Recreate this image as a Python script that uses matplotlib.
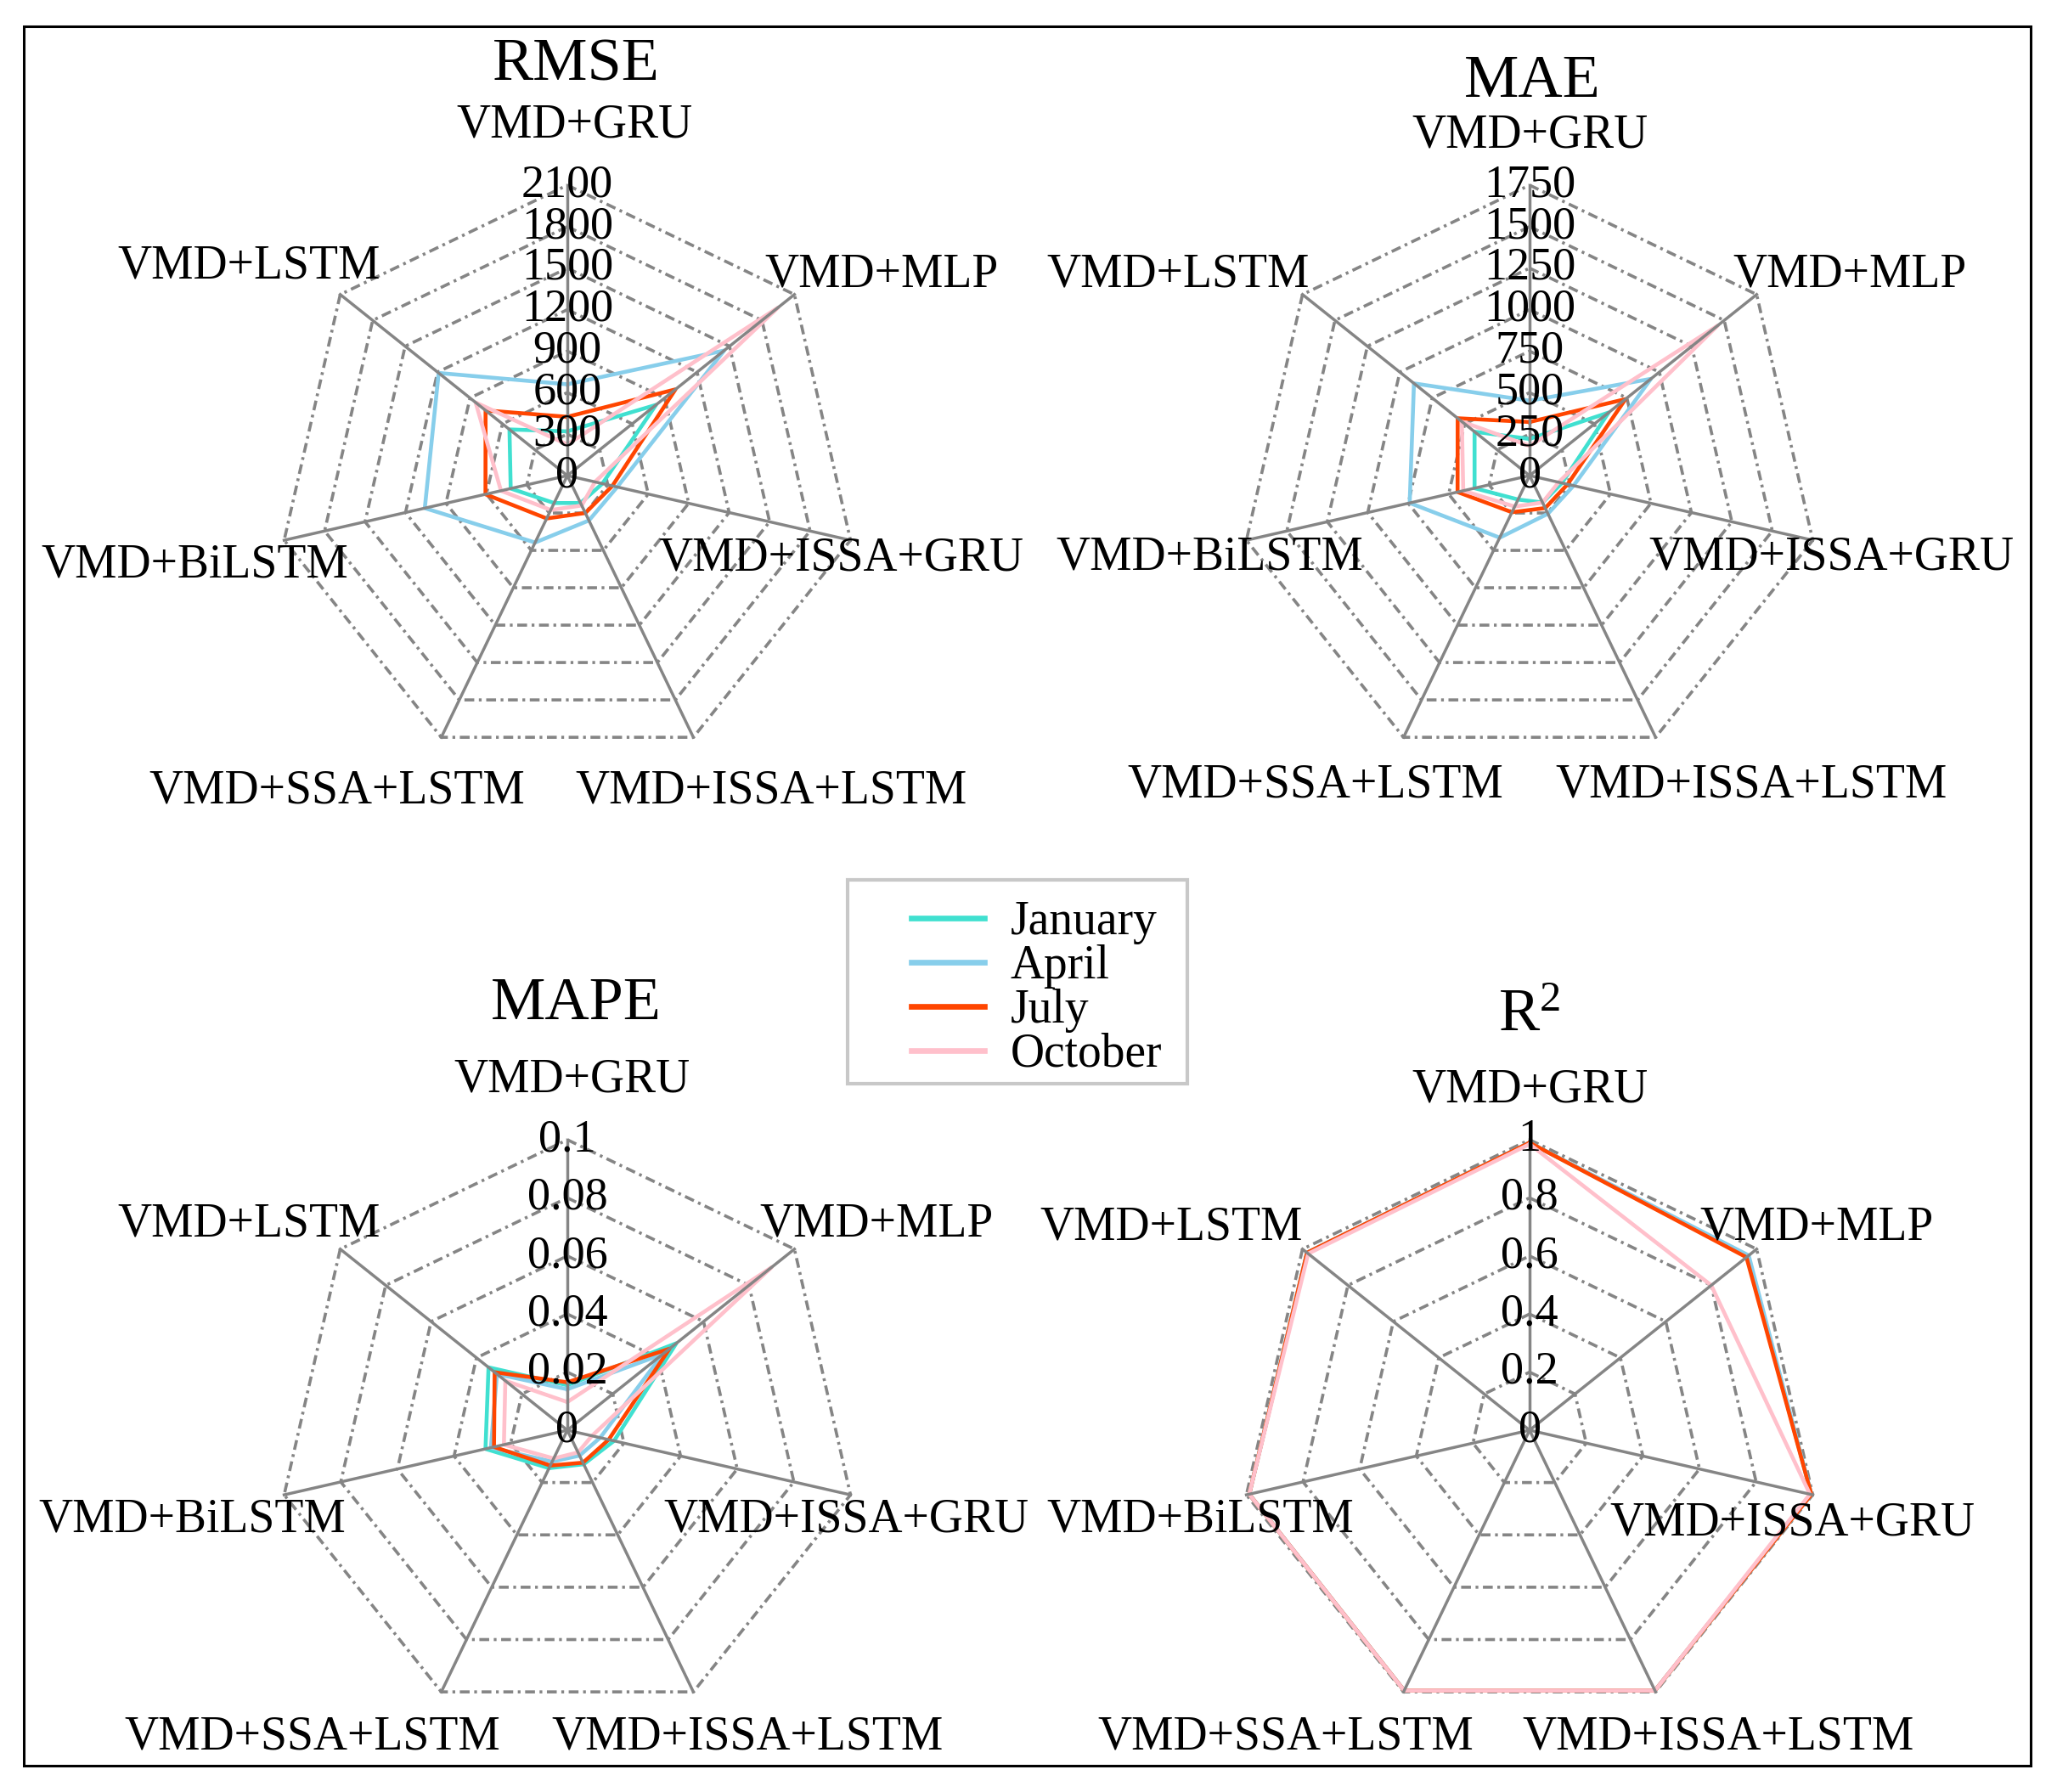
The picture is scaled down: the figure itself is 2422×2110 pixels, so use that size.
import numpy as np
import matplotlib
matplotlib.use('Agg')
import matplotlib.pyplot as plt
from matplotlib.lines import Line2D
from matplotlib.patches import Rectangle

plt.rcParams['font.family'] = ['Liberation Serif', 'DejaVu Serif']
plt.rcParams['mathtext.fontset'] = 'custom'
plt.rcParams['mathtext.rm'] = 'Liberation Serif'
plt.rcParams['mathtext.it'] = 'Liberation Serif:italic'

# ---------------------------------------------------------------- data
categories = ['VMD+GRU', 'VMD+MLP', 'VMD+ISSA+GRU', 'VMD+ISSA+LSTM',
              'VMD+SSA+LSTM', 'VMD+BiLSTM', 'VMD+LSTM']
months = ['January', 'April', 'July', 'October']
colors = ['#40E0D0', '#87CEEB', '#FF4500', '#FFC0CB']

rmse_jan = [320, 820, 260, 220, 220, 420, 535]
rmse_apr = [660, 1450, 370, 360, 537, 1057, 1190]
rmse_jul = [425, 1000, 334, 300, 344, 607, 756]
rmse_oct = [225, 1950, 205, 240, 276, 492, 848]

mae_jan = [221, 609, 200, 180, 160, 340, 424]
mae_apr = [451, 935, 272, 255, 415, 741, 891]
mae_jul = [323, 739, 235, 217, 245, 445, 554]
mae_oct = [179, 1450, 180, 180, 207, 410, 522]

mape_jan = [0.0155, 0.048, 0.0165, 0.013, 0.0145, 0.0289, 0.0347]
mape_apr = [0.0141, 0.042, 0.0116, 0.0097, 0.012, 0.027, 0.031]
mape_jul = [0.0165, 0.045, 0.0146, 0.0124, 0.0135, 0.0259, 0.032]
mape_oct = [0.0097, 0.090, 0.0087, 0.0085, 0.0108, 0.0224, 0.0273]

r2_jan = [0.99, 0.96, 0.995, 0.995, 0.995, 0.99, 0.98]
r2_apr = [0.99, 0.965, 0.995, 0.995, 0.995, 0.99, 0.98]
r2_jul = [0.99, 0.955, 0.995, 0.995, 0.995, 0.99, 0.98]
r2_oct = [0.985, 0.80, 0.99, 0.995, 0.995, 0.99, 0.975]

rmse_ticks = [0, 300, 600, 900, 1200, 1500, 1800, 2100]
mae_ticks = [0, 250, 500, 750, 1000, 1250, 1500, 1750]
mape_ticks = [0, 0.02, 0.04, 0.06, 0.08, 0.1]
r2_ticks = [0, 0.2, 0.4, 0.6, 0.8, 1]

# ---------------------------------------------------------------- layout
W, H = 2422, 2110
R = 342
GRID = '#858585'
LAB_DY = 5   # small downward nudge for label centres

fig = plt.figure(figsize=(W / 100, H / 100), dpi=100)
fig.patch.set_facecolor('white')

# category label centres (px, from top-left), same order as categories
rmse_lab = [(676, 142), (1038, 318), (990, 653), (908, 927),
            (397, 927), (229, 661), (293, 309)]
mae_lab = [(1801, 155), (2178, 319), (2156, 652), (2062, 920),
           (1549, 920), (1424, 652), (1387, 319)]
mape_lab = [(673, 1267), (1032, 1436), (996, 1784), (880, 2040),
            (368, 2040), (226, 1784), (293, 1436)]
r2_lab = [(1801, 1279), (2139, 1440), (2110, 1789), (2023, 2040),
          (1514, 2040), (1413, 1784), (1379, 1440)]

panels = [
    ('RMSE', (668, 560), (678, 77), rmse_lab,
     [rmse_jan, rmse_apr, rmse_jul, rmse_oct], rmse_ticks),
    ('MAE', (1801, 560), (1804, 97), mae_lab,
     [mae_jan, mae_apr, mae_jul, mae_oct], mae_ticks),
    ('MAPE', (668, 1684), (678, 1183), mape_lab,
     [mape_jan, mape_apr, mape_jul, mape_oct], mape_ticks),
    ('R$^2$', (1801, 1684), (1801, 1196), r2_lab,
     [r2_jan, r2_apr, r2_jul, r2_oct], r2_ticks),
]

angles = np.arange(len(categories)) * 2 * np.pi / len(categories)
closed = np.r_[angles, angles[0]]

for title, (cx, cy), (tx, ty), labpos, series, ticks in panels:
    ax = fig.add_axes([(cx - R) / W, 1 - (cy + R) / H, 2 * R / W, 2 * R / H],
                      projection='polar')
    ax.set_theta_offset(np.pi / 2)
    ax.set_theta_direction(-1)
    ax.set_ylim(0, ticks[-1])
    ax.axis('off')

    # heptagon rings (dash-dot)
    for v in ticks[1:]:
        ax.plot(closed, [v] * len(closed), color=GRID, lw=2.6,
                ls=(0, (3.2, 1.5, 0.9, 1.5)), zorder=1, clip_on=False)

    for vals, c in zip(series, colors):
        ax.plot(closed, np.r_[vals, vals[0]], color=c, lw=3.3, zorder=3,
                clip_on=False)

    # spokes
    for a in angles:
        ax.plot([a, a], [0, ticks[-1]], color=GRID, lw=2.5, zorder=4,
                clip_on=False)

    for v in ticks:
        ax.text(0, v, '%g' % v, ha='center', va='center', fontsize=39,
                color='black', zorder=5)

    for name, (lx, ly) in zip(categories, labpos):
        fig.text(lx / W, 1 - (ly + LAB_DY) / H, name, ha='center',
                 va='center', fontsize=40)

    fig.text(tx / W, 1 - ty / H, title, ha='center', va='center', fontsize=52)

# legend: entries without frame, frame drawn as its own box
handles = [Line2D([0], [0], color=c, lw=4.8) for c in colors]
fig.legend(handles, months, loc='upper left',
           bbox_to_anchor=(1073 / W, 1 - 1060 / H),
           fontsize=40, frameon=False, labelspacing=0.0,
           handlelength=1.55, handletextpad=0.55,
           borderpad=0, borderaxespad=0)
fig.add_artist(Rectangle((998 / W, 1 - 1276 / H), 400 / W, 240 / H,
                         transform=fig.transFigure, fill=False,
                         edgecolor='#c8c8c8', lw=3))

# outer frame
fig.add_artist(Rectangle((28 / W, 1 - 2079 / H), (2391 - 28) / W,
                         (2079 - 31) / H, transform=fig.transFigure,
                         fill=False, edgecolor='black', lw=2.2))

fig.savefig('out.png', dpi=100, facecolor='white')
